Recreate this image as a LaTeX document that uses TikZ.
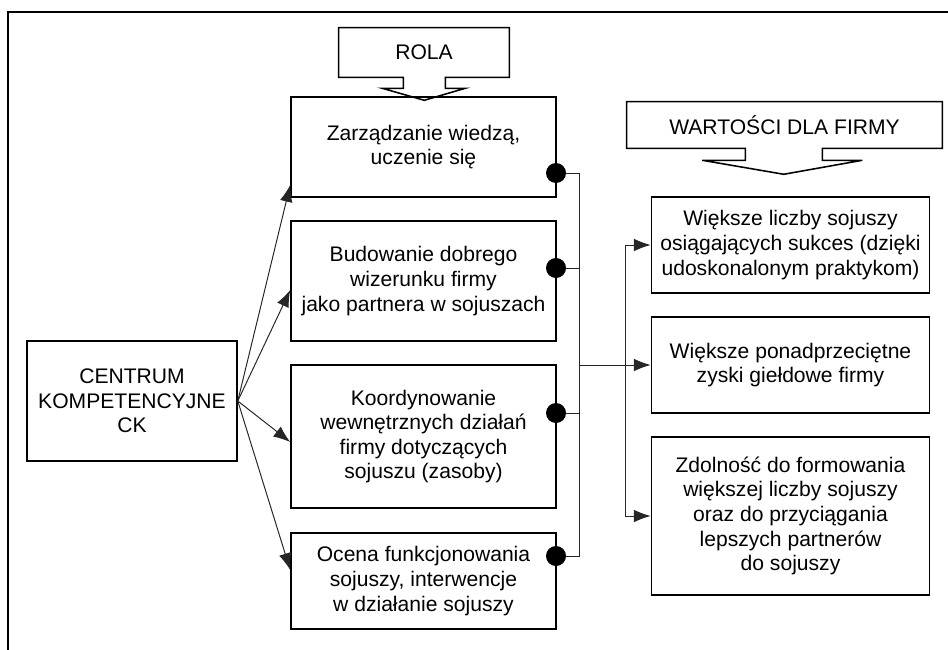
\documentclass[tikz,border=0pt]{standalone}
\usepackage{fontspec}
\setmainfont{Liberation Sans}
\usetikzlibrary{arrows.meta}
\tikzstyle{box} = [draw, line width=1.1pt, align=center, inner sep=2pt]
\tikzstyle{line} = [line width=0.7pt, black!85]
\tikzstyle{arrow} = [line, -{Latex[length=12pt,width=9pt]}]
\def\px{0.025cm}

\begin{document}
\begin{tikzpicture}[x=\px, y=-\px, font=\fontsize{15}{17.5}\selectfont]
\useasboundingbox (0,0) rectangle (948,650);
\draw[line width=1.1pt] (948,12) -- (8,12) -- (8,650);

% naglowki ze strzalka w dol
\node[align=center, minimum width=170*\px, minimum height=49*\px] (rola) at (424,52.5) {ROLA};
\draw[line width=1.1pt] (rola.south west) -- (rola.north west) -- (rola.north east) -- (rola.south east)
  -- ++(-64,0) -- ++(0,11) -- ++(20,0) -- ++(-41,12) -- ++(-42,-12) -- ++(21,0) -- ++(0,-11) -- cycle;
\node[align=center, minimum width=315*\px, minimum height=46*\px] (wartosci) at (784.5,125) {WARTOŚCI DLA FIRMY};
\draw[line width=1.1pt] (wartosci.south west) -- (wartosci.north west) -- (wartosci.north east) -- (wartosci.south east)
  -- ++(-120,0) -- ++(0,12) -- ++(40,0) -- ++(-78.5,14) -- ++(-81.5,-14) -- ++(43,0) -- ++(0,-12) -- cycle;

% centrum
\node[box, minimum width=210*\px, minimum height=120*\px] (ck) at (132,401) {CENTRUM\\KOMPETENCYJNE\\CK};

% role
\node[box, minimum width=265*\px, minimum height=100*\px] (zarz) at (423.5,147) {Zarządzanie wiedzą,\\uczenie się};
\node[box, minimum width=265*\px, minimum height=120*\px] (wiz) at (423.5,281) {Budowanie dobrego\\wizerunku firmy\\jako partnera w sojuszach};
\node[box, minimum width=265*\px, minimum height=143*\px] (koord) at (423.5,436.5) {Koordynowanie\\wewnętrznych działań\\firmy dotyczących\\sojuszu (zasoby)};
\node[box, minimum width=265*\px, minimum height=96*\px] (ocena) at (423.5,581) {Ocena funkcjonowania\\sojuszy, interwencje\\w działanie sojuszy};

% wartosci
\node[box, minimum width=278*\px, minimum height=96*\px] (wiekszeliczby) at (790.5,245) {Większe liczby sojuszy\\osiągających sukces (dzięki\\udoskonalonym praktykom)};
\node[box, minimum width=278*\px, minimum height=96*\px] (zyski) at (790.5,365) {Większe ponadprzeciętne\\zyski giełdowe firmy};
\node[box, minimum width=278*\px, minimum height=158*\px] (zdolnosc) at (790.5,516) {Zdolność do formowania\\większej liczby sojuszy\\oraz do przyciągania\\lepszych partnerów\\do sojuszy};

% strzalki z CK
\draw[arrow] (ck.east) -- (zarz.west |- 0,185);
\draw[arrow] (ck.east) -- (wiz.west |- 0,290);
\draw[arrow] (ck.east) -- (koord.west |- 0,442);
\draw[arrow] (ck.east) -- (ocena.west |- 0,570);

% szyna
\coordinate (bus) at (579,365);
\coordinate (split) at (625,365);
\draw[line] (zarz.east |- 0,173) -- (bus |- 0,173) -- (bus |- 0,556) -- (ocena.east |- 0,556);
\draw[line] (wiz.east |- 0,268) -- (bus |- 0,268);
\draw[line] (koord.east |- 0,413) -- (bus |- 0,413);
\foreach \y in {173,268,413,556}
  \fill (556,\y) circle (0.25cm);
\draw[arrow] (bus) -- (zyski.west);
\draw[arrow] (split) |- (wiekszeliczby.west);
\draw[arrow] (split) |- (zdolnosc.west);
\end{tikzpicture}
\end{document}
